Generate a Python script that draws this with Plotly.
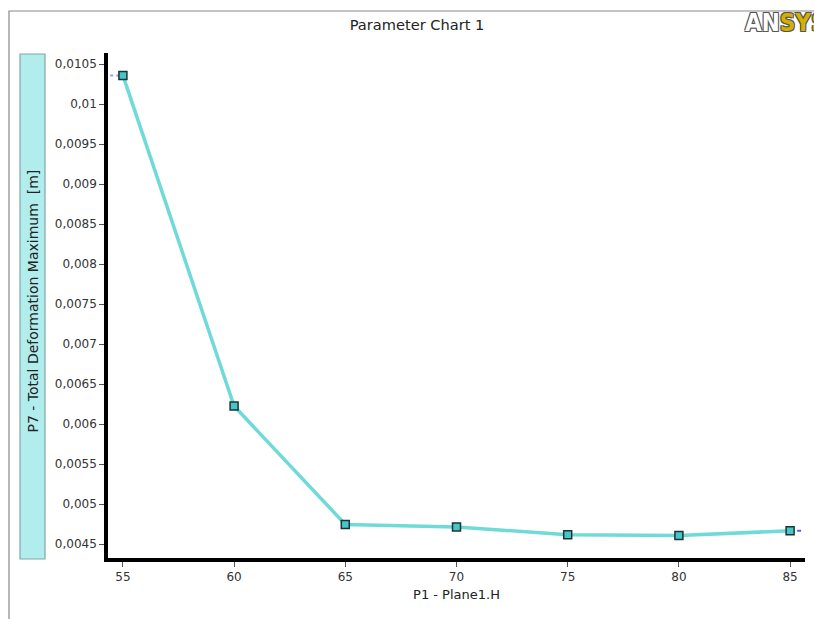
import plotly.graph_objects as go

# Data
plane_h = [55, 60, 65, 70, 75, 80, 85]
total_deformation = [0.01036, 0.006225, 0.004745, 0.004714, 0.004616, 0.004605, 0.004666]
y_ticks = [0.0045, 0.005, 0.0055, 0.006, 0.0065, 0.007, 0.0075, 0.008, 0.0085, 0.009, 0.0095, 0.01, 0.0105]
y_tick_labels = ["0,0045", "0,005", "0,0055", "0,006", "0,0065", "0,007", "0,0075",
                 "0,008", "0,0085", "0,009", "0,0095", "0,01", "0,0105"]
x_ticks = [55, 60, 65, 70, 75, 80, 85]

x_range = [54.33, 85.67]
y_range = [0.004325, 0.01064]

fig = go.Figure()

# small blue dashed continuation at ends
fig.add_trace(go.Scatter(x=[x_range[0] + 0.1, plane_h[0]], y=[total_deformation[0]] * 2,
                         mode="lines", line=dict(color="#9a9cff", width=2, dash="3px,3px"),
                         hoverinfo="skip", showlegend=False))
fig.add_trace(go.Scatter(x=[plane_h[-1], x_range[1] - 0.05], y=[total_deformation[-1]] * 2,
                         mode="lines", line=dict(color="#5a5cff", width=2, dash="4px,3px"),
                         hoverinfo="skip", showlegend=False))

fig.add_trace(go.Scatter(
    x=plane_h, y=total_deformation, mode="lines+markers",
    line=dict(color="#6fdad7", width=3.5),
    marker=dict(symbol="square", size=8, color="#45c6c8",
                line=dict(color="#1c3436", width=1.5)),
    showlegend=False,
))

fig.update_layout(
    width=814, height=619,
    margin=dict(l=108, r=9, t=53, b=61),
    paper_bgcolor="white", plot_bgcolor="white",
    font=dict(family="DejaVu Sans", size=12, color="#333333"),
    title=dict(text="Parameter Chart 1", x=417 / 814, xref="container", xanchor="center",
               y=1 - 25 / 619, yanchor="middle", yref="container",
               font=dict(family="DejaVu Sans", size=14.6, color="#222222")),
    xaxis=dict(range=x_range, tickvals=x_ticks, ticks="outside", ticklen=5,
               tickcolor="#555555", showgrid=False, zeroline=False,
               showline=True, linecolor="black", linewidth=3.5,
               tickfont=dict(size=12, color="#333333"),
               title=dict(text="P1 - Plane1.H", standoff=8,
                          font=dict(size=13, color="#222222"))),
    yaxis=dict(range=y_range, tickvals=y_ticks, ticktext=y_tick_labels,
               ticks="outside", ticklen=5, tickcolor="#555555",
               showgrid=False, zeroline=False, showline=True,
               linecolor="black", linewidth=3.5,
               tickfont=dict(size=12, color="#333333")),
    shapes=[
        # outer frame
        dict(type="rect", xref="paper", yref="paper",
             x0=(9 - 108) / 697, x1=1.05, y0=-0.2, y1=1 + (53 - 11) / 505,
             line=dict(color="#888888", width=1.2), fillcolor="rgba(0,0,0,0)", layer="below"),
        # y-axis title box
        dict(type="rect", xref="paper", yref="paper",
             x0=(20 - 108) / 697, x1=(45 - 108) / 697,
             y0=(558 - 559) / 505, y1=(558 - 54) / 505,
             line=dict(color="#7fa7a7", width=1.2), fillcolor="#b2eded"),
    ],
    annotations=[
        dict(text="P7 - Total Deformation Maximum  [m]", textangle=-90,
             xref="paper", yref="paper", x=(32.5 - 108) / 697, y=(558 - 301) / 505,
             xanchor="center", yanchor="middle", showarrow=False,
             font=dict(size=14, color="#222222")),
        dict(text="<b>AN<span style='color:#d4b000'>SYS</span></b>",
             xref="paper", yref="paper", x=(743 - 108) / 697, y=(558 - 23) / 505,
             xanchor="left", yanchor="middle", showarrow=False,
             font=dict(family="DejaVu Sans Condensed", size=24, color="#ffffff",
                       shadow="1px 1px 0 #555, -1px -1px 0 #555, 1px -1px 0 #555, -1px 1px 0 #555")),
    ],
)

fig.write_html("out.html")
